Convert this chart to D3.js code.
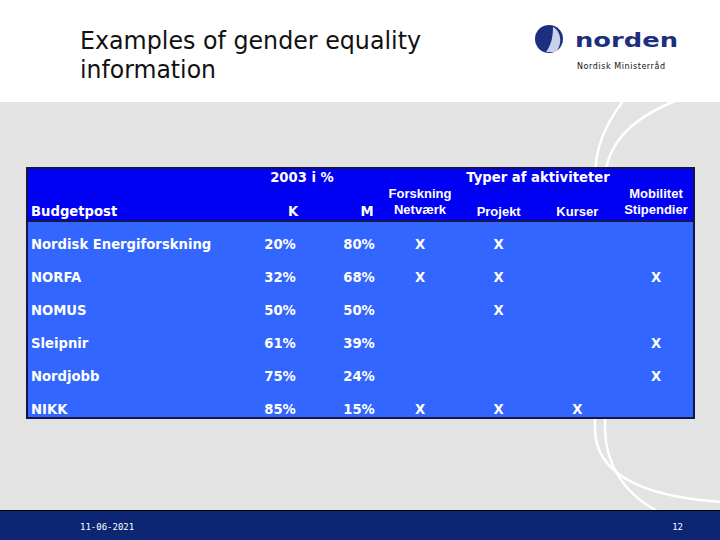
<!DOCTYPE html>
<html>
<head>
<meta charset="utf-8">
<script src="https://cdn.jsdelivr.net/npm/d3@7"></script>
<style>
  body { margin: 0; }
  svg { display: block; }
</style>
</head>
<body>
<svg width="720" height="540"></svg>
<script>
    'use strict';

    // table data
    var budgetposts = ['Nordisk Energiforskning', 'NORFA', 'NOMUS', 'Sleipnir', 'Nordjobb', 'NIKK'];
    var kShare = ['20%', '32%', '50%', '61%', '75%', '85%'];
    var mShare = ['80%', '68%', '50%', '39%', '24%', '15%'];
    var activities = ['Forskning Netværk', 'Projekt', 'Kurser', 'Mobilitet Stipendier'];
    var forskning = [1, 1, 0, 0, 0, 1];
    var projekt = [1, 1, 1, 0, 0, 1];
    var kurser = [0, 0, 0, 0, 0, 1];
    var mobilitet = [0, 1, 0, 1, 1, 0];

    (function () {
        var flags = [forskning, projekt, kurser, mobilitet];

        var svg = d3.select("svg");
        var verdana = "Verdana, 'DejaVu Sans', sans-serif";
        var arial = "Arial, 'Liberation Sans', sans-serif";
        var fs = 13.2;

        // background
        svg.append("rect").attr("width", 720).attr("height", 540).attr("fill", "#fff");
        svg.append("rect").attr("y", 102).attr("width", 720).attr("height", 408).attr("fill", "#e3e3e3");

        // decorative arcs
        var arcs = [
            "M623,101 C603,128 595,150 595,178 L595,428 C595,468 630,496 722,502",
            "M675,101 C628,120 605,148 605,182 L605,428 C605,462 622,492 657,511"
        ];
        svg.selectAll("path.arc").data(arcs).enter().append("path")
            .attr("class", "arc")
            .attr("d", function (d) { return d; })
            .attr("fill", "none")
            .attr("stroke", "#fff")
            .attr("stroke-width", 2.5);

        // title
        svg.append("text").attr("x", 80).attr("y", 49)
            .style("font-family", "Tahoma, 'DejaVu Sans', sans-serif").style("font-size", "24px").attr("fill", "#111")
            .attr("textLength", 341).attr("lengthAdjust", "spacingAndGlyphs")
            .text("Examples of gender equality");
        svg.append("text").attr("x", 80).attr("y", 78)
            .style("font-family", "Tahoma, 'DejaVu Sans', sans-serif").style("font-size", "24px").attr("fill", "#111")
            .attr("textLength", 136).attr("lengthAdjust", "spacingAndGlyphs")
            .text("information");

        // logo
        var logo = svg.append("g");
        logo.append("circle").attr("cx", 549).attr("cy", 39).attr("r", 14).attr("fill", "#1c2f7e");
        logo.append("path").attr("d", "M553,27 C561,31 563,44 556,52 L546,52 C552,44 553,35 553,27 Z").attr("fill", "#c9d2ea");
        logo.append("text").attr("x", 575).attr("y", 47)
            .style("font-family", "'DejaVu Sans', sans-serif").style("font-weight", "bold").style("font-size", "20px")
            .attr("fill", "#1c2f7e").attr("textLength", 103).attr("lengthAdjust", "spacingAndGlyphs").text("norden");
        logo.append("text").attr("x", 577).attr("y", 69)
            .style("font-family", "'DejaVu Sans', sans-serif").style("font-size", "8px")
            .attr("fill", "#111").attr("textLength", 88).text("Nordisk Ministerråd");

        // table frame
        var tLeft = 27, tRight = 694, tTop = 168, headBottom = 221, tBottom = 418;
        svg.append("rect").attr("x", tLeft).attr("y", headBottom).attr("width", tRight - tLeft).attr("height", tBottom - headBottom).attr("fill", "#3366ff");
        svg.append("rect").attr("x", tLeft).attr("y", tTop).attr("width", tRight - tLeft).attr("height", headBottom - tTop).attr("fill", "#0000f2");
        svg.append("line").attr("x1", tLeft).attr("x2", tRight).attr("y1", headBottom).attr("y2", headBottom).attr("stroke", "#15154a").attr("stroke-width", 2);
        svg.append("rect").attr("x", tLeft).attr("y", tTop).attr("width", tRight - tLeft).attr("height", tBottom - tTop)
            .attr("fill", "none").attr("stroke", "#15154a").attr("stroke-width", 2);

        var y = d3.scalePoint().domain(budgetposts).range([244, 409]);
        var xAct = d3.scalePoint().domain(activities).range([420, 656]);
        var xK = 280, xM = 359;

        function label(x, yy, txt, anchor, font, size) {
            svg.append("text").attr("x", x).attr("y", yy)
                .attr("text-anchor", anchor)
                .attr("dominant-baseline", "central")
                .style("font-family", font).style("font-weight", "bold").style("font-size", size + "px")
                .attr("fill", "#fff").text(txt);
        }

        // header
        label(302, 177, "2003 i %", "middle", verdana, fs);
        label(538, 177, "Typer af aktiviteter", "middle", verdana, fs);
        label(31, 211, "Budgetpost", "start", verdana, fs);
        label(293, 211, "K", "middle", verdana, fs);
        label(367, 211, "M", "middle", verdana, fs);
        activities.forEach(function (a) {
            var parts = a.split(" ");
            if (parts.length === 2) {
                label(xAct(a), 193, parts[0], "middle", arial, 13);
                label(xAct(a), 209, parts[1], "middle", arial, 13);
            } else {
                label(xAct(a), 211, a, "middle", arial, 13);
            }
        });

        // body
        budgetposts.forEach(function (b, i) {
            label(31, y(b), b, "start", verdana, fs);
            label(xK, y(b), kShare[i], "middle", verdana, fs);
            label(xM, y(b), mShare[i], "middle", verdana, fs);
            activities.forEach(function (a, j) {
                if (flags[j][i]) label(xAct(a), y(b), "X", "middle", verdana, fs);
            });
        });

        // footer
        svg.append("rect").attr("y", 510).attr("width", 720).attr("height", 30).attr("fill", "#0c2673");
        svg.append("line").attr("x1", 0).attr("x2", 720).attr("y1", 510.5).attr("y2", 510.5).attr("stroke", "#000").attr("stroke-width", 1);
        svg.append("text").attr("x", 80).attr("y", 530)
            .style("font-family", "'DejaVu Sans Mono', monospace").style("font-size", "9px").attr("fill", "#fff").text("11-06-2021");
        svg.append("text").attr("x", 683).attr("y", 530).attr("text-anchor", "end")
            .style("font-family", "'DejaVu Sans Mono', monospace").style("font-size", "9px").attr("fill", "#fff").text("12");
    })();
</script>
</body>
</html>
